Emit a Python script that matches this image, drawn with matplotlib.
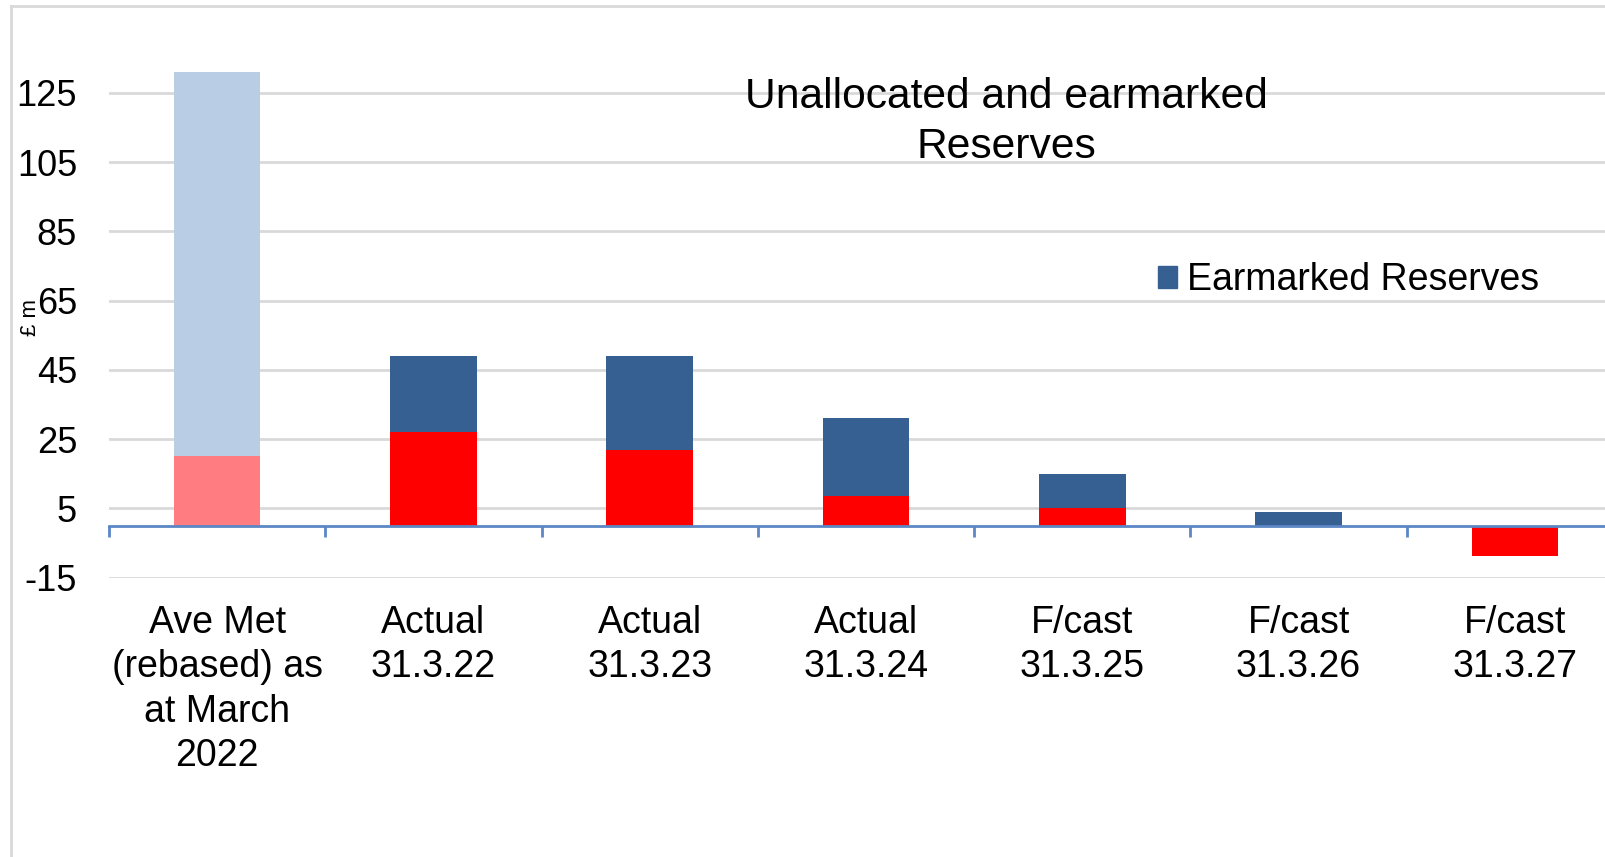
import matplotlib.pyplot as plt
import matplotlib.patches as mpatches
import numpy as np

plt.rcParams['font.family'] = ['Liberation Sans', 'DejaVu Sans']
plt.rcParams['axes.unicode_minus'] = False

categories = ['Ave Met\n(rebased) as\nat March\n2022', 'Actual\n31.3.22', 'Actual\n31.3.23',
              'Actual\n31.3.24', 'F/cast\n31.3.25', 'F/cast\n31.3.26', 'F/cast\n31.3.27']
unallocated = [20, 27, 22, 8.6, 5, 0, -8.7]
earmarked = [111, 22, 27, 22.5, 10, 4, 0]
yticks = [-15, 5, 25, 45, 65, 85, 105, 125]

red_cols = ['#ff7c80'] + ['#ff0000'] * 6
blue_cols = ['#b9cde5'] + ['#376092'] * 6

fig = plt.figure(figsize=(16.06, 8.57), dpi=100)
ax = fig.add_axes([109 / 1606, 1 - 577.7 / 857, 1514 / 1606, 519.6 / 857])

x = np.arange(len(categories))
ax.bar(x, unallocated, width=0.4, color=red_cols, zorder=3)
ax.bar(x, earmarked, width=0.4, bottom=[max(u, 0) for u in unallocated], color=blue_cols, zorder=3)

ax.set_xlim(-0.5, 6.5)
ax.set_ylim(-15, 135)
ax.set_yticks(yticks)
ax.yaxis.grid(True, color='#d9d9d9', linewidth=2, zorder=0)
ax.tick_params(axis='y', length=0, pad=23, labelsize=26)

for s in ['top', 'right', 'left']:
    ax.spines[s].set_visible(False)
ax.spines['bottom'].set_position(('data', 0))
ax.spines['bottom'].set_color('#5b87c5')
ax.spines['bottom'].set_linewidth(2)
ax.spines['bottom'].set_zorder(4)
ax.set_xticks(x)
ax.set_xticklabels(categories, linespacing=1.3)
ax.set_xticks(np.arange(-0.5, 7, 1), minor=True)
ax.tick_params(axis='x', which='major', length=0, pad=57, labelsize=27)
ax.tick_params(axis='x', which='minor', length=8, width=2, color='#5b87c5', direction='out')

fig.text(31 / 1606, 1 - 318 / 857, '£ m', rotation=90, fontsize=16, ha='center', va='center')
fig.text(1006 / 1606, 1 - 122 / 857, 'Unallocated and earmarked\nReserves', fontsize=30.7,
         ha='center', va='center', linespacing=1.3)

handle = mpatches.Patch(color='#376092', label='Earmarked Reserves')
fig.legend(handles=[handle], loc='center left', bbox_to_anchor=(1158 / 1606, 1 - 280 / 857),
           frameon=False, fontsize=27, borderpad=0, borderaxespad=0,
           handlelength=0.52, handleheight=0.52, handletextpad=0.25)

fig.add_artist(plt.Line2D([11 / 1606, 11 / 1606], [0, 1 - 6 / 857], transform=fig.transFigure,
                          color='#d9d9d9', linewidth=2))
fig.add_artist(plt.Line2D([11 / 1606, 1], [1 - 6 / 857, 1 - 6 / 857], transform=fig.transFigure,
                          color='#d9d9d9', linewidth=2))

fig.savefig('out.png', dpi=100)
